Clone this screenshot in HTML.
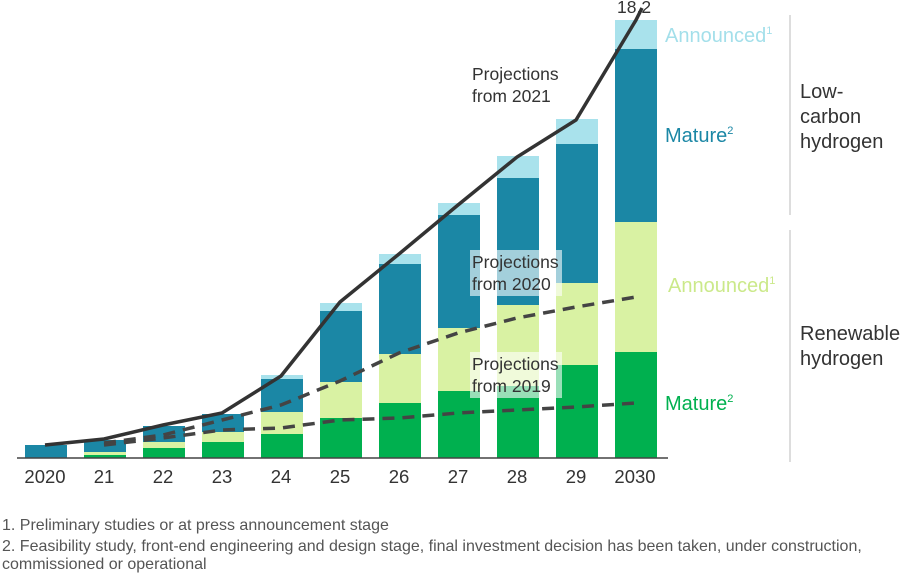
<!DOCTYPE html><html><head><style>body{margin:0;background:#fff}svg{display:block}text{font-family:"Liberation Sans",sans-serif}</style></head><body>
<svg width="900" height="573" viewBox="0 0 900 573">
<g>
<rect x="25" y="445" width="42" height="13" fill="#1b87a5"/>
<rect x="84" y="455" width="42" height="3" fill="#00b04f"/><rect x="84" y="452" width="42" height="3" fill="#d9f2a3"/><rect x="84" y="440" width="42" height="12" fill="#1b87a5"/>
<rect x="143" y="448" width="42" height="10" fill="#00b04f"/><rect x="143" y="442" width="42" height="6" fill="#d9f2a3"/><rect x="143" y="426" width="42" height="16" fill="#1b87a5"/>
<rect x="202" y="442" width="42" height="16" fill="#00b04f"/><rect x="202" y="432" width="42" height="10" fill="#d9f2a3"/><rect x="202" y="414" width="42" height="18" fill="#1b87a5"/>
<rect x="261" y="434" width="42" height="24" fill="#00b04f"/><rect x="261" y="412" width="42" height="22" fill="#d9f2a3"/><rect x="261" y="379" width="42" height="33" fill="#1b87a5"/><rect x="261" y="375" width="42" height="4" fill="#a9e2ec"/>
<rect x="320" y="418" width="42" height="40" fill="#00b04f"/><rect x="320" y="382" width="42" height="36" fill="#d9f2a3"/><rect x="320" y="311" width="42" height="71" fill="#1b87a5"/><rect x="320" y="303" width="42" height="8" fill="#a9e2ec"/>
<rect x="379" y="403" width="42" height="55" fill="#00b04f"/><rect x="379" y="354" width="42" height="49" fill="#d9f2a3"/><rect x="379" y="264" width="42" height="90" fill="#1b87a5"/><rect x="379" y="254" width="42" height="10" fill="#a9e2ec"/>
<rect x="438" y="391" width="42" height="67" fill="#00b04f"/><rect x="438" y="328" width="42" height="63" fill="#d9f2a3"/><rect x="438" y="215" width="42" height="113" fill="#1b87a5"/><rect x="438" y="203" width="42" height="12" fill="#a9e2ec"/>
<rect x="497" y="386" width="42" height="72" fill="#00b04f"/><rect x="497" y="305" width="42" height="81" fill="#d9f2a3"/><rect x="497" y="178" width="42" height="127" fill="#1b87a5"/><rect x="497" y="156" width="42" height="22" fill="#a9e2ec"/>
<rect x="556" y="365" width="42" height="93" fill="#00b04f"/><rect x="556" y="283" width="42" height="82" fill="#d9f2a3"/><rect x="556" y="144" width="42" height="139" fill="#1b87a5"/><rect x="556" y="119" width="42" height="25" fill="#a9e2ec"/>
<rect x="615" y="352" width="42" height="106" fill="#00b04f"/><rect x="615" y="222" width="42" height="130" fill="#d9f2a3"/><rect x="615" y="49" width="42" height="173" fill="#1b87a5"/><rect x="615" y="20" width="42" height="29" fill="#a9e2ec"/>
</g>
<line x1="17" y1="458" x2="668" y2="458" stroke="#444" stroke-width="1.5"/>
<polyline points="45,445 104,439 163,425 222,413 281,376 340,302 399,254 458,205 517,157 576,120 636,20 642,8" fill="none" stroke="#333" stroke-width="3.5"/>
<polyline points="104,443 163,435 222,420 281,405 340,381 399,353 458,333 517,318 576,307 636,297" fill="none" stroke="#444" stroke-width="3.5" stroke-dasharray="12,8"/>
<polyline points="104,445 163,438 222,430 281,428 340,420 399,418 458,413 517,410 576,407 636,403" fill="none" stroke="#444" stroke-width="3.5" stroke-dasharray="12,8"/>
<rect x="470" y="250" width="92" height="46" fill="#fff" opacity="0.6"/>
<rect x="470" y="352" width="92" height="46" fill="#fff" opacity="0.6"/>
<g font-size="17.5" fill="#333">
<text x="472" y="80">Projections</text><text x="472" y="102">from 2021</text>
<text x="472" y="268">Projections</text><text x="472" y="290">from 2020</text>
<text x="472" y="370">Projections</text><text x="472" y="392">from 2019</text>
<text x="617" y="13">18.2</text>
</g>
<g font-size="18.5" fill="#333" text-anchor="middle">
<text x="45" y="483">2020</text><text x="104" y="483">21</text><text x="163" y="483">22</text><text x="222" y="483">23</text><text x="281" y="483">24</text><text x="340" y="483">25</text><text x="399" y="483">26</text><text x="458" y="483">27</text><text x="517" y="483">28</text><text x="576" y="483">29</text><text x="635" y="483">2030</text>
</g>
<g font-size="20">
<text x="665" y="42" fill="#a3dfea">Announced<tspan font-size="11" dy="-8">1</tspan></text>
<text x="665" y="142" fill="#1b87a5">Mature<tspan font-size="11" dy="-8">2</tspan></text>
<text x="668" y="292" fill="#cbe98a">Announced<tspan font-size="11" dy="-8">1</tspan></text>
<text x="665" y="410" fill="#00b04f">Mature<tspan font-size="11" dy="-8">2</tspan></text>
</g>
<line x1="790" y1="15" x2="790" y2="215" stroke="#bbb"/>
<line x1="790" y1="230" x2="790" y2="462" stroke="#bbb"/>
<g font-size="20" fill="#333">
<text x="800" y="98">Low-</text><text x="800" y="123">carbon</text><text x="800" y="148">hydrogen</text>
<text x="800" y="340">Renewable</text><text x="800" y="365">hydrogen</text>
</g>
<g font-size="16" fill="#555">
<text x="2" y="530">1. Preliminary studies or at press announcement stage</text>
<text x="2" y="551">2. Feasibility study, front-end engineering and design stage, final investment decision has been taken, under construction,</text>
<text x="2" y="569">commissioned or operational</text>
</g>
</svg></body></html>
